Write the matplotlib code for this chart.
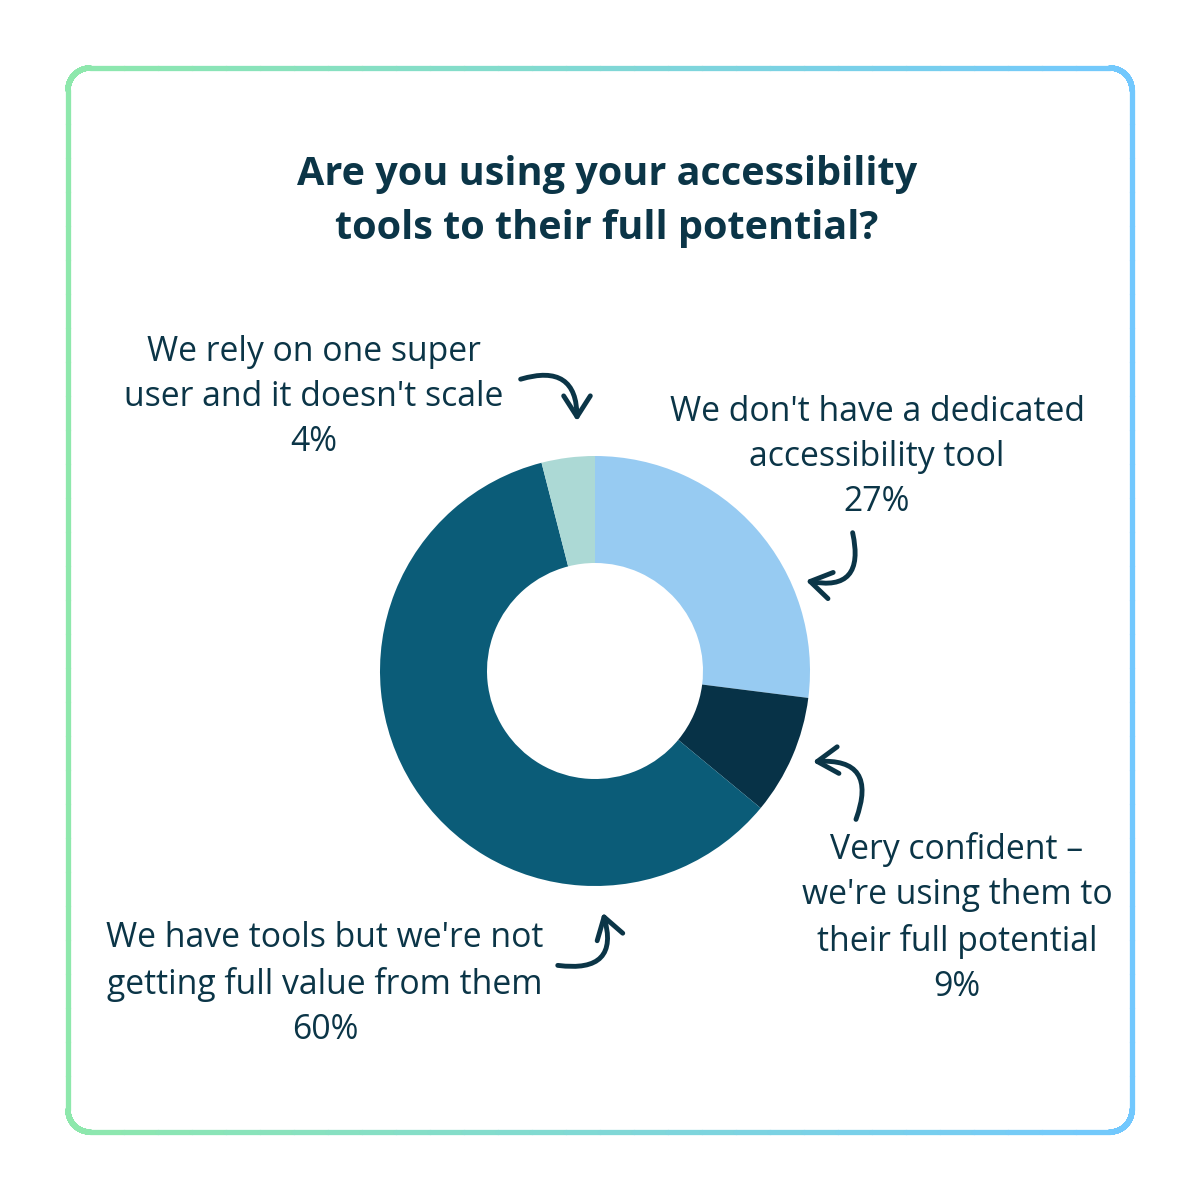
import numpy as np
import matplotlib.pyplot as plt
from matplotlib.collections import LineCollection
from matplotlib.patches import FancyArrowPatch
from matplotlib.colors import LinearSegmentedColormap

# data
labels = ["We don't have a dedicated\naccessibility tool",
          "Very confident –\nwe're using them to\ntheir full potential",
          "We have tools but we're not\ngetting full value from them",
          "We rely on one super\nuser and it doesn't scale"]
values = [27, 9, 60, 4]
colors = ["#97CBF2", "#073247", "#0B5C78", "#ACD9D5"]
title = "Are you using your accessibility\ntools to their full potential?"

text_col = "#0B3547"
plt.rcParams['font.family'] = ['Open Sans', 'DejaVu Sans']

fig = plt.figure(figsize=(12, 12), dpi=100)
ax = fig.add_axes([0, 0, 1, 1])
ax.set_xlim(0, 1200)
ax.set_ylim(0, 1200)
ax.set_aspect('equal')
ax.axis('off')

# rahmen mit farbverlauf (links grün, rechts blau)
x0, x1, y0, y1, r = 68, 1132, 68, 1132, 22
pts = []
for cx, cy, a0 in [(x1 - r, y1 - r, 0), (x0 + r, y1 - r, 90), (x0 + r, y0 + r, 180), (x1 - r, y0 + r, 270)]:
    t = np.radians(np.linspace(a0, a0 + 90, 20))
    pts += list(zip(cx + r * np.cos(t), cy + r * np.sin(t)))
pts.append(pts[0])
dense = []
for (ax_, ay), (bx, by) in zip(pts[:-1], pts[1:]):
    for s in np.linspace(0, 1, 30, endpoint=False):
        dense.append((ax_ + (bx - ax_) * s, ay + (by - ay) * s))
dense.append(pts[0])
dense = np.array(dense)
segs = np.stack([dense[:-1], dense[1:]], axis=1)
cmap = LinearSegmentedColormap.from_list("bd", ["#8EE8AC", "#72C8FE"])
xm = (segs[:, 0, 0] + segs[:, 1, 0]) / 2
lc = LineCollection(segs, colors=cmap((xm - x0) / (x1 - x0)), linewidth=3.8, capstyle='round')
ax.add_collection(lc)

# donut
ax.pie(values, colors=colors, startangle=90, counterclock=False,
       center=(595, 529), radius=215,
       wedgeprops=dict(width=107, linewidth=0), frame=True)
ax.set_xlim(0, 1200)
ax.set_ylim(0, 1200)
ax.axis('off')

# titel
ax.text(607, 1200 - 202, title, ha='center', va='center', fontsize=28.5,
        fontweight='bold', color=text_col, linespacing=1.5)

# beschriftungen
lab_pos = [(877, 1200 - 457), (957, 1200 - 918), (325, 1200 - 984), (314, 1200 - 397)]
for lab, v, (lx, ly) in zip(labels, values, lab_pos):
    ax.text(lx, ly, f"{lab}\n{v}%", ha='center', va='center', fontsize=24.3,
            color=text_col, linespacing=1.44)

# pfeile
arrows = [((518, 380), (577, 424), -0.7),
          ((852, 530), (803, 580), -0.8),
          ((855, 822), (810, 762), 0.8),
          ((555, 965), (602, 910), 0.8)]
for (sx, sy), (ex, ey), rad in arrows:
    ax.add_patch(FancyArrowPatch((sx, 1200 - sy), (ex, 1200 - ey),
                                 connectionstyle=f"arc3,rad={rad}",
                                 arrowstyle="->,head_length=5,head_width=3.2",
                                 color=text_col, linewidth=3.5, mutation_scale=3,
                                 capstyle='round'))

fig.savefig("out.png", dpi=100, facecolor="white")
